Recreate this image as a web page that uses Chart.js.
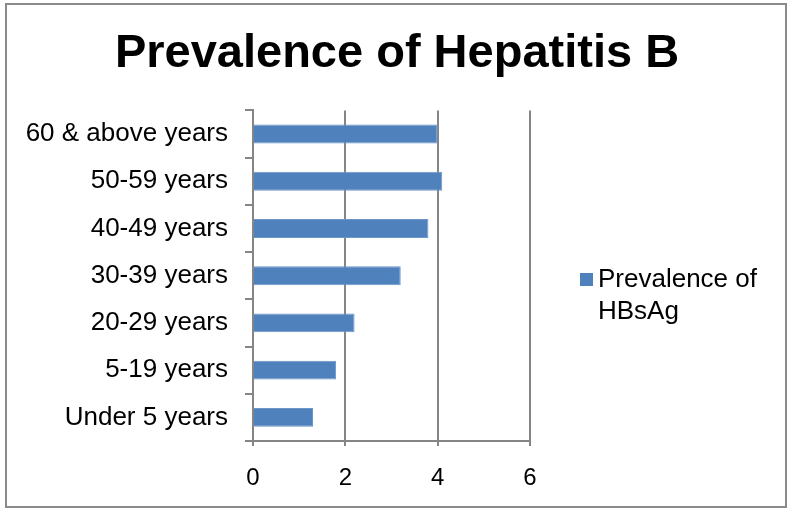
<!DOCTYPE html>
<html>
<head>
<meta charset="utf-8">
<script src="https://cdn.jsdelivr.net/npm/chart.js@4.4.0/dist/chart.umd.min.js"></script>
<style>
  html, body { margin: 0; padding: 0; background: #fff; }
  #wrap { width: 794px; height: 518px; position: relative; }
</style>
</head>
<body>
<div id="wrap"><canvas id="chart" width="794" height="518"></canvas></div>
<script>
// data, bottom to top as in the source sheet
const ageGroups = ['Under 5 years', '5-19 years', '20-29 years', '30-39 years', '40-49 years', '50-59 years', '60 & above years'];
const prevalence = [1.3, 1.8, 2.2, 3.2, 3.8, 4.1, 4.0];
const xTicks = [0, 2, 4, 6];
const seriesName = 'Prevalence of HBsAg';
const legendLines = ['Prevalence of', 'HBsAg'];

const axisGray = '#858585';
const barBlue = '#4F81BD';

// outer frame + white background
const framePlugin = {
    id: 'frame',
    beforeDraw(chart) {
        const ctx = chart.ctx;
        ctx.save();
        ctx.fillStyle = '#fff';
        ctx.fillRect(0, 0, chart.width, chart.height);
        ctx.strokeStyle = '#8a8a8a';
        ctx.lineWidth = 2;
        ctx.strokeRect(6, 4, 780, 503);
        ctx.restore();
    }
};

// legend on the right, wrapped over two lines
const sideLegend = {
    id: 'sideLegend',
    afterDraw(chart) {
        const ctx = chart.ctx;
        const ds = chart.data.datasets[0];
        ctx.save();
        ctx.fillStyle = ds.backgroundColor;
        ctx.fillRect(580, 273, 13, 13);
        ctx.fillStyle = '#000';
        ctx.font = '26px "Liberation Sans", Arial, sans-serif';
        ctx.textBaseline = 'middle';
        legendLines.forEach((line, i) => {
            ctx.fillText(line, 598, 280 + i * 32);
        });
        ctx.restore();
    }
};

new Chart(document.getElementById('chart'), {
    type: 'bar',
    data: {
        labels: ageGroups,
        datasets: [{
            label: seriesName,
            data: prevalence,
            backgroundColor: barBlue,
            borderColor: '#6c95c8',
            borderWidth: 1,
            categoryPercentage: 1,
            barPercentage: 0.4
        }]
    },
    options: {
        indexAxis: 'y',
        responsive: false,
        animation: false,
        layout: { padding: 0 },
        plugins: {
            legend: { display: false },
            tooltip: { enabled: false },
            title: {
                display: true,
                text: 'Prevalence of Hepatitis B',
                color: '#000',
                font: { family: '"Liberation Sans", Arial, sans-serif', size: 47, weight: 'bold', lineHeight: 1.2 },
                padding: { top: 26, bottom: 28 }
            }
        },
        scales: {
            x: {
                min: 0,
                max: 6,
                afterBuildTicks: (scale) => {
                    scale.ticks = xTicks.map(v => ({ value: v }));
                },
                afterFit: (scale) => { scale.height = 77; },
                grid: {
                    color: axisGray,
                    lineWidth: 2,
                    tickLength: 5
                },
                border: { color: axisGray, width: 2 },
                ticks: {
                    color: '#000',
                    padding: 18,
                    font: { family: '"Liberation Sans", Arial, sans-serif', size: 24 }
                }
            },
            y: {
                reverse: true,
                afterFit: (scale) => { scale.width = 253; },
                grid: {
                    offset: true,
                    drawOnChartArea: false,
                    color: axisGray,
                    lineWidth: 2,
                    tickLength: 8
                },
                border: { color: axisGray, width: 2 },
                ticks: {
                    color: '#000',
                    padding: 17,
                    font: { family: '"Liberation Sans", Arial, sans-serif', size: 26 }
                }
            },
            // empty axis that keeps room for the legend on the right
            legendSpace: {
                type: 'category',
                position: 'right',
                afterFit: (scale) => { scale.width = 264; },
                grid: { display: false },
                border: { display: false },
                ticks: { display: false }
            }
        }
    },
    plugins: [framePlugin, sideLegend]
});
</script>
</body>
</html>
